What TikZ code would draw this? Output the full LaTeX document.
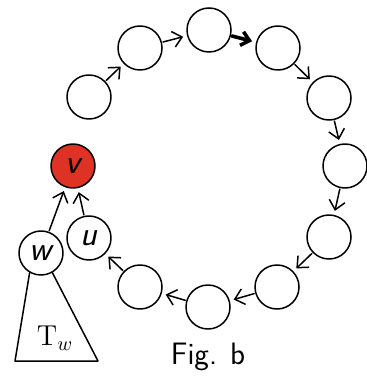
\documentclass[tikz,border=0pt]{standalone}
\usepackage{tikz}
\usetikzlibrary{arrows.meta}
\definecolor{vred}{RGB}{222,50,36}

\begin{document}
\begin{tikzpicture}[x=0.5pt, y=-0.5pt, line join=round, line cap=round,
    vtx/.style={circle, draw, line width=0.75pt, minimum size=22pt, inner sep=0pt, font=\LARGE\sffamily\itshape},
    link/.style={line width=0.75pt, -{Straight Barb[length=4.5pt,width=8pt]}, shorten >=2pt, shorten <=0.5pt},
    boldlink/.style={line width=1.8pt, -{Straight Barb[length=4pt,width=7pt]}, shorten >=2pt, shorten <=0.5pt}]
    \useasboundingbox (0,0) rectangle (367,379);

    % ring of vertices
    \node[vtx] (c1) at (89,97) {};
    \node[vtx] (c2) at (140,48) {};
    \node[vtx] (c3) at (209,30) {};
    \node[vtx] (c4) at (278,48) {};
    \node[vtx] (c5) at (329,98) {};
    \node[vtx] (c6) at (345,166) {};
    \node[vtx] (c7) at (329,237) {};
    \node[vtx] (c8) at (277,287) {};
    \node[vtx] (c9) at (208,307) {};
    \node[vtx] (c10) at (140,287) {};
    \node[vtx] (u) at (89,238) {u};
    \node[vtx, fill=vred] (v) at (73,166) {v};
    \node[vtx] (w) at (41,253) {w};

    % cycle edges
    \foreach \a/\b in {c1/c2,c2/c3,c4/c5,c5/c6,c6/c7,c7/c8,c8/c9,c9/c10,c10/u}
        \draw[link] (\a) -- (\b);
    \draw[boldlink] (c3) -- (c4);

    % edges into v
    \draw[link] (u) -- (v);
    \draw[link] (w) -- (v);

    % subtree below w
    \coordinate (tl) at (15,361);
    \coordinate (tr) at (98,361);
    \draw[line width=0.75pt] (w.240) -- (tl) -- (tr) -- (w.300);
    \node (tw) at (55,338) {\Large$\mathrm{T}_{w}$};

    \node[font=\fontsize{15.5}{18}\selectfont\sffamily] (cap) at (208,357) {Fig. b};
\end{tikzpicture}
\end{document}
